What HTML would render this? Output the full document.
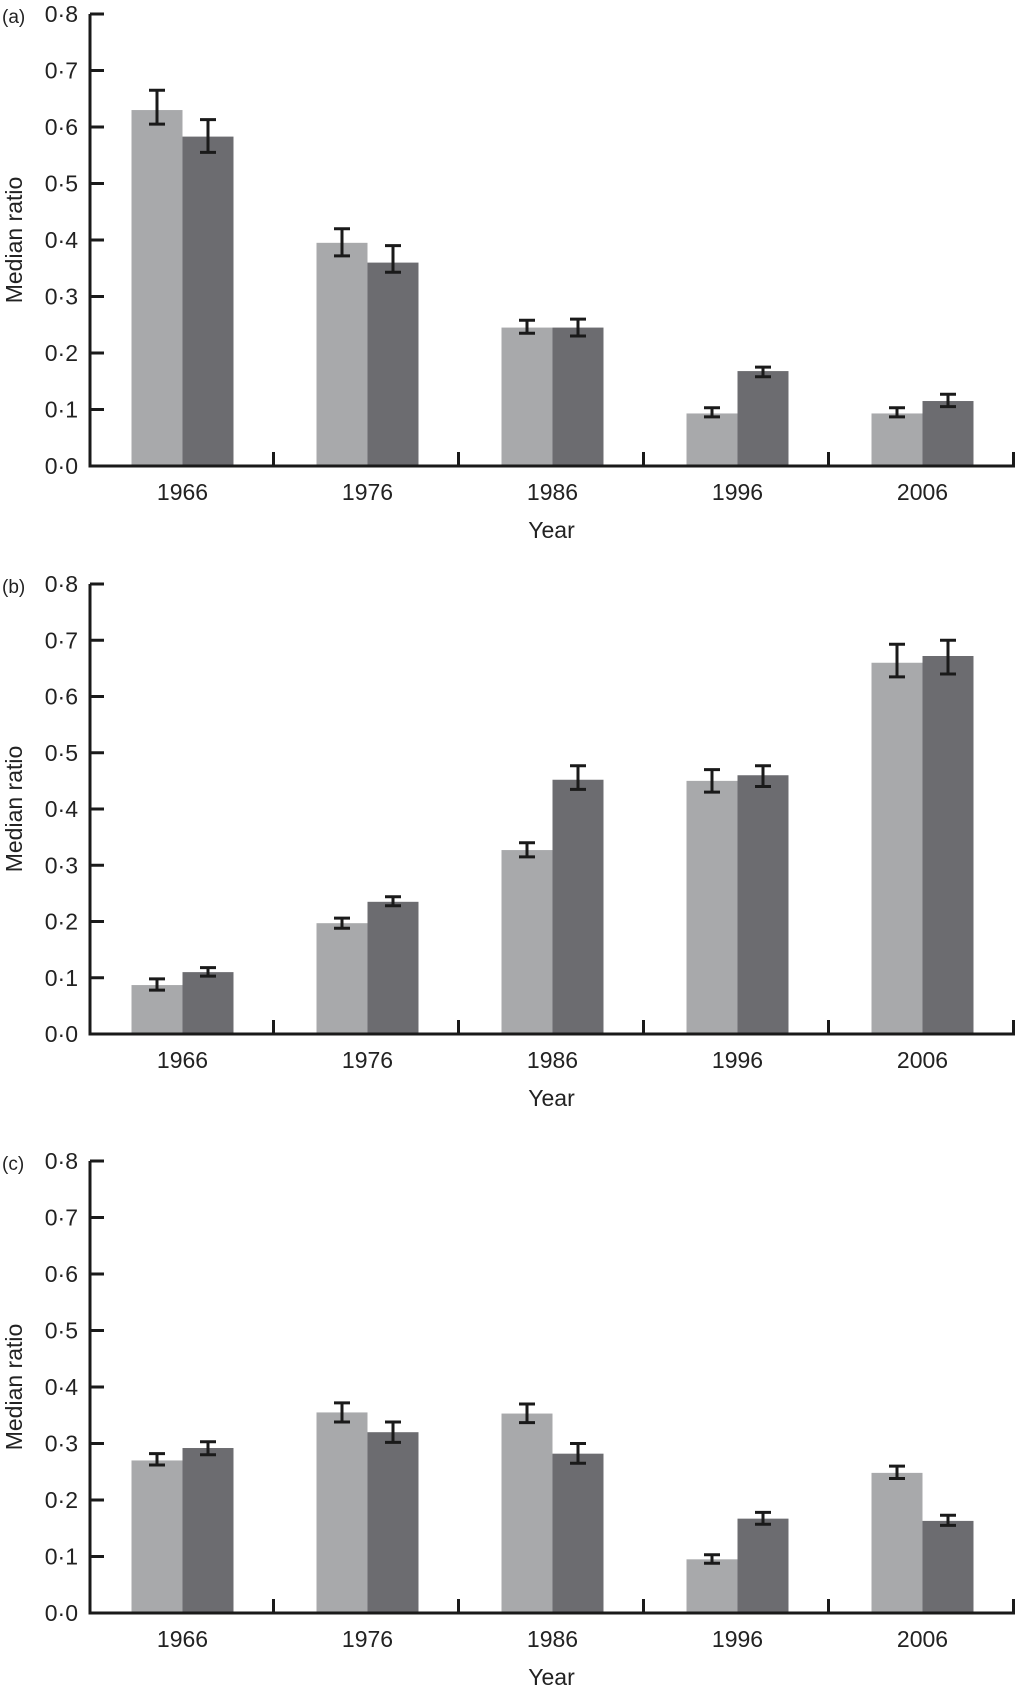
<!DOCTYPE html>
<html><head><meta charset="utf-8"><style>
html,body{margin:0;padding:0;background:#fff;}
svg{display:block;}
text{font-family:"Liberation Sans",sans-serif;fill:#222;}
</style></head><body>
<svg id="chart" width="1015" height="1698" viewBox="0 0 1015 1698" xmlns="http://www.w3.org/2000/svg"></svg>
<script>
const categories = ["1966","1976","1986","1996","2006"];
const yTicks = ["0·0","0·1","0·2","0·3","0·4","0·5","0·6","0·7","0·8"];
const panelLabels = ["(a)","(b)","(c)"];
const lightA = [0.630,0.395,0.245,0.093,0.093];
const lightALo = [0.605,0.372,0.235,0.087,0.087];
const lightAHi = [0.665,0.420,0.258,0.103,0.103];
const darkA = [0.583,0.360,0.245,0.168,0.115];
const darkALo = [0.555,0.343,0.230,0.158,0.105];
const darkAHi = [0.613,0.390,0.260,0.175,0.127];
const lightB = [0.087,0.197,0.327,0.450,0.660];
const lightBLo = [0.078,0.188,0.315,0.430,0.635];
const lightBHi = [0.098,0.206,0.340,0.470,0.693];
const darkB = [0.110,0.235,0.452,0.460,0.672];
const darkBLo = [0.103,0.228,0.435,0.440,0.640];
const darkBHi = [0.118,0.244,0.477,0.477,0.700];
const lightC = [0.270,0.355,0.353,0.095,0.248];
const lightCLo = [0.262,0.338,0.337,0.088,0.238];
const lightCHi = [0.282,0.372,0.370,0.103,0.260];
const darkC = [0.292,0.320,0.282,0.167,0.163];
const darkCLo = [0.280,0.302,0.265,0.157,0.155];
const darkCHi = [0.303,0.338,0.300,0.178,0.173];

const panels = [
 {top:14,bottom:466,light:[lightA,lightALo,lightAHi],dark:[darkA,darkALo,darkAHi]},
 {top:584,bottom:1034,light:[lightB,lightBLo,lightBHi],dark:[darkB,darkBLo,darkBHi]},
 {top:1161,bottom:1613,light:[lightC,lightCLo,lightCHi],dark:[darkC,darkCLo,darkCHi]}
];
const svg = document.getElementById('chart');
const NS = 'http://www.w3.org/2000/svg';
function mk(tag, attrs, parent){const e=document.createElementNS(NS,tag);for(const k in attrs)e.setAttribute(k,attrs[k]);parent.appendChild(e);return e;}
const X0=90, X1=1015, catW=(X1-X0)/categories.length, barW=51;
const xCenter = i => X0 + catW*(i+0.5);

panels.forEach((p,pi)=>{
  const y = v => p.bottom - (v/0.8)*(p.bottom-p.top);
  const g = mk('g',{},svg);
  
  
  const pl = mk('text',{x:2,y:p.top+9,'font-size':19},g); pl.textContent=panelLabels[pi];
  
  
  const yt = mk('text',{x:0,y:0,'font-size':23,'text-anchor':'middle',transform:`translate(22,${y(0.4)}) rotate(-90)`},g);
  yt.textContent='Median ratio';
  
  
  [p.light,p.dark].forEach((s,si)=>{
    s[0].forEach((v,i)=>{
      const bx = si===0 ? xCenter(i)-barW : xCenter(i);
      const r = mk('rect',{x:bx,y:y(v),width:barW,height:p.bottom-y(v),fill:si===0?'#a8a9ab':'#6c6c70'},g);
      
      
      const cx = bx+barW/2, lo=y(s[1][i]), hi=y(s[2][i]);
      const eb = mk('path',{d:`M${cx},${lo}V${hi}M${cx-8},${lo}H${cx+8}M${cx-8},${hi}H${cx+8}`,stroke:'#1a1a1a','stroke-width':3,fill:'none'},g);
      
      
    });
  });
  const ax = mk('path',{d:`M${X0},${p.top}V${p.bottom}H${X1}`,stroke:'#1a1a1a','stroke-width':3,fill:'none'},g);
  
  
  yTicks.forEach((t,i)=>{
    const v=i*0.1;
    mk('line',{x1:X0,x2:X0+14,y1:y(v),y2:y(v),stroke:'#1a1a1a','stroke-width':3},g);
    const tl = mk('text',{x:78,y:y(v)+8,'font-size':23,'text-anchor':'end'},g); tl.textContent=t;
    
    
  });
  categories.forEach((c,i)=>{
    const bx = X0+catW*(i+1)-1.5;
    mk('line',{x1:bx,x2:bx,y1:p.bottom,y2:p.bottom-14,stroke:'#1a1a1a','stroke-width':3},g);
    const xl = mk('text',{x:xCenter(i),y:p.bottom+34,'font-size':23,'text-anchor':'middle'},g); xl.textContent=c;
    
    
  });
  const xt = mk('text',{x:X0+(X1-X0)/2-1,y:p.bottom+72,'font-size':23,'text-anchor':'middle'},g); xt.textContent='Year';
  
  
});
</script>
</body></html>
